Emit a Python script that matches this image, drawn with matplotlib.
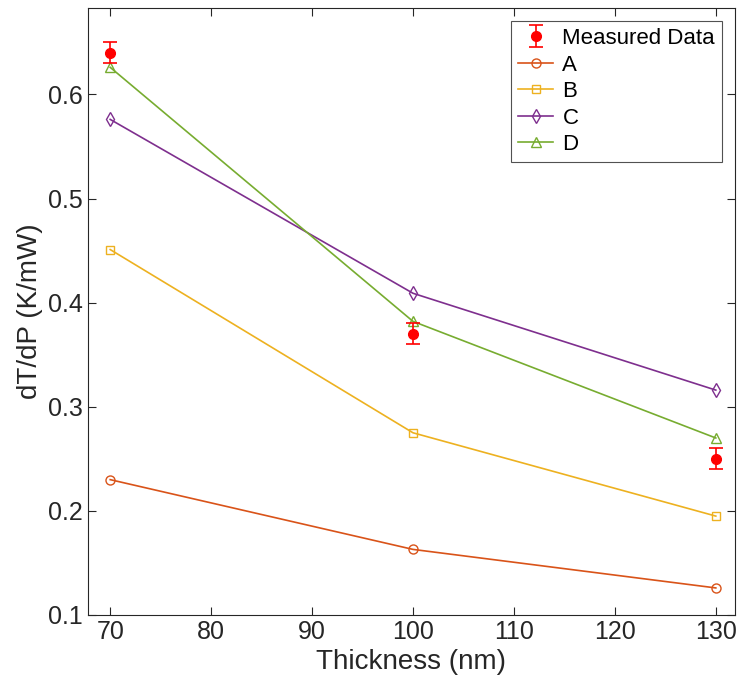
import numpy as np
import matplotlib
matplotlib.use('Agg')
import matplotlib.pyplot as plt

plt.rcParams['font.family'] = ['Liberation Sans', 'DejaVu Sans']

thickness = [70, 100, 130]
measured = [0.640, 0.370, 0.250]
measured_err = [0.010, 0.010, 0.010]
series_a = [0.230, 0.163, 0.126]
series_b = [0.451, 0.275, 0.195]
series_c = [0.576, 0.409, 0.316]
series_d = [0.626, 0.382, 0.270]
labels = ['A', 'B', 'C', 'D']
xticks = [70, 80, 90, 100, 110, 120, 130]
yticks = [0.1, 0.2, 0.3, 0.4, 0.5, 0.6]

fig = plt.figure(figsize=(7.37, 6.86), dpi=100)
ax = fig.add_axes([88/737, 1 - 615/686, (735-88)/737, (615-8)/686])

eb = ax.errorbar(thickness, measured, yerr=measured_err, fmt='o', color='red',
                 ms=7, capsize=5, elinewidth=1.2, capthick=1.2, label='Measured Data',
                 zorder=5)

handles = [eb]
styles = [('#D95319', 'o', 6.5), ('#EDB120', 's', 6.0), ('#7E2F8E', 'd', 7.5), ('#77AC30', '^', 6.5)]
for vals, lab, (c, m, sz) in zip([series_a, series_b, series_c, series_d], labels, styles):
    ln, = ax.plot(thickness, vals, color=c, marker=m, mfc='none', mec=c,
                  ms=sz, lw=1.2, label=lab)
    handles.append(ln)

ax.set_xlim(67.8, 131.9)
ax.set_ylim(0.1, 0.683)
ax.set_xticks(xticks)
ax.set_yticks(yticks)
ax.set_yticklabels(['0.1', '0.2', '0.3', '0.4', '0.5', '0.6'])
ax.tick_params(direction='in', labelsize=18, length=6, width=0.8, top=True, right=True,
               colors='#262626', labelcolor='#262626')
for s in ax.spines.values():
    s.set_color('#262626')
    s.set_linewidth(0.8)
ax.set_xlabel('Thickness (nm)', fontsize=20, color='#262626')
ax.set_ylabel('dT/dP (K/mW)', fontsize=20, color='#262626')

leg = ax.legend(handles=handles, loc='upper right', fontsize=16, frameon=True,
                fancybox=False, edgecolor='#262626', handlelength=1.6, borderpad=0.3,
                labelspacing=0.25, handletextpad=0.4, borderaxespad=0.6)
leg.get_frame().set_linewidth(0.8)

fig.savefig('out.png', dpi=100)
